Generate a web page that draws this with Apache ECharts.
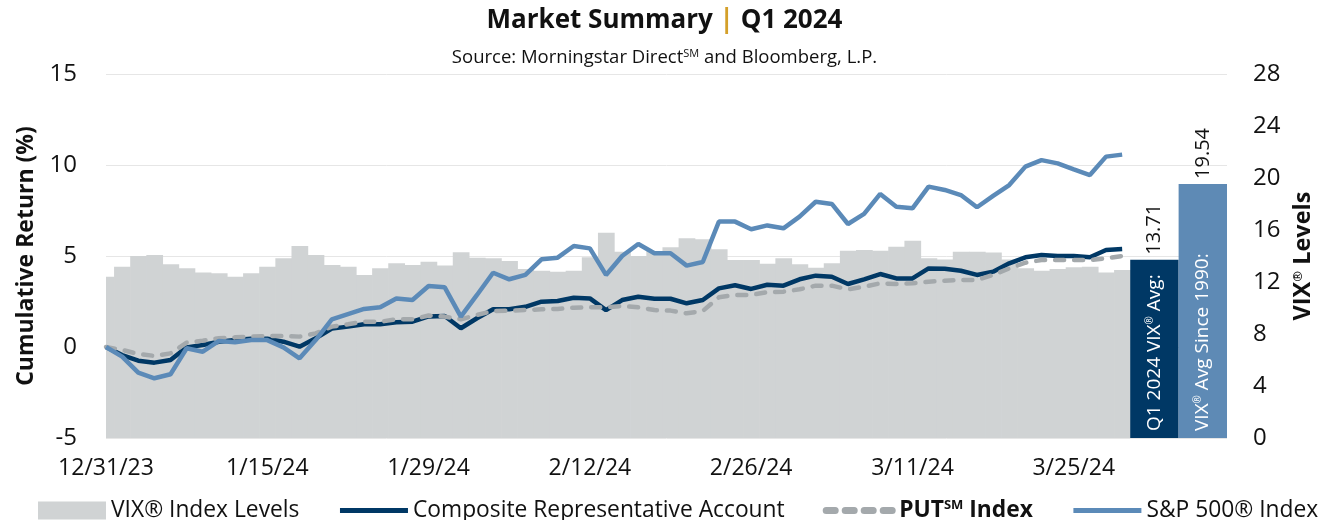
<!DOCTYPE html>
<html>
<head>
<meta charset="utf-8">
<script src="https://cdn.jsdelivr.net/npm/echarts@6/dist/echarts.min.js"></script>
<style>
  html, body { margin: 0; padding: 0; background: #fff; }
  #chart { width: 1329px; height: 520px; }
</style>
</head>
<body>
<div id="chart"></div>
<script>
// x tick labels, shown every 10 trading days
const tickLabels = ["12/31/23", "1/15/24", "1/29/24", "2/12/24", "2/26/24", "3/11/24", "3/25/24"]

// daily values, index 0 = 12/29/23
const vix = [
  12.41, 13.18, 14.0, 14.08, 13.36, 13.05, 12.74, 12.67, 12.41, 12.67,
  13.18, 13.82, 14.77, 14.08, 13.31, 13.18, 12.54, 13.05, 13.44, 13.31,
  13.56, 13.26, 14.28, 13.87, 13.82, 13.62, 13.0, 12.87, 12.79, 12.87,
  13.9, 15.79, 14.33, 14.0, 14.38, 14.67, 15.36, 15.28, 14.51, 13.69,
  13.69, 13.4, 13.82, 13.36, 13.1, 13.44, 14.41, 14.46, 14.41, 14.72,
  15.18, 13.82, 13.74, 14.33, 14.33, 14.26, 13.74, 13.05, 12.87, 13.0,
  13.13, 13.18, 12.74, 12.92
]
const composite = [
  0, -0.44, -0.75, -0.86, -0.71, -0.02, 0.11, 0.29, 0.38, 0.46,
  0.46, 0.29, 0.02, 0.48, 1.01, 1.12, 1.25, 1.25, 1.36, 1.39,
  1.68, 1.7, 1.03, 1.58, 2.07, 2.07, 2.21, 2.49, 2.53, 2.71,
  2.67, 2.03, 2.58, 2.76, 2.65, 2.65, 2.4, 2.58, 3.22, 3.39,
  3.19, 3.42, 3.37, 3.72, 3.92, 3.86, 3.46, 3.72, 4.01, 3.77,
  3.77, 4.32, 4.3, 4.19, 3.96, 4.14, 4.6, 4.93, 5.05, 5.0,
  5.0, 4.93, 5.33, 5.38
]
const putIndex = [
  0, -0.16, -0.38, -0.49, -0.35, 0.24, 0.35, 0.48, 0.53, 0.57,
  0.6, 0.6, 0.57, 0.75, 1.12, 1.25, 1.39, 1.39, 1.52, 1.52,
  1.73, 1.67, 1.52, 1.76, 1.98, 2.0, 2.03, 2.07, 2.09, 2.16,
  2.18, 2.18, 2.25, 2.18, 2.03, 2.0, 1.85, 1.98, 2.73, 2.86,
  2.86, 3.01, 3.04, 3.17, 3.37, 3.37, 3.17, 3.31, 3.5, 3.46,
  3.5, 3.59, 3.64, 3.68, 3.68, 3.96, 4.32, 4.63, 4.78, 4.78,
  4.78, 4.78, 4.87, 5.0
]
const sp500 = [
  0, -0.53, -1.41, -1.72, -1.5, -0.07, -0.26, 0.33, 0.26, 0.38,
  0.38, -0.02, -0.62, 0.38, 1.52, 1.81, 2.09, 2.18, 2.67, 2.58,
  3.35, 3.28, 1.67, 2.86, 4.08, 3.72, 3.96, 4.82, 4.91, 5.55,
  5.42, 3.96, 5.0, 5.66, 5.15, 5.15, 4.47, 4.67, 6.89, 6.89,
  6.47, 6.68, 6.52, 7.16, 7.98, 7.86, 6.76, 7.31, 8.41, 7.71,
  7.62, 8.81, 8.63, 8.35, 7.68, 8.3, 8.9, 9.91, 10.27, 10.09,
  9.76, 9.45, 10.46, 10.57
]

// VIX averages shown as the two bars on the right
const avgNames = ["Q1 2024 VIX{sup|®} Avg:", "VIX{sup|®} Avg Since 1990:"]
const avgValues = [13.71, 19.54]

const font = "Open Sans"
const last = vix.length - 1
const xMax = last + 6.5

let myChart = echarts.init(document.getElementById("chart"))

const idx = (arr) => arr.map((v, i) => [i, v])

myChart.setOption({
  animation: false,
  textStyle: { fontFamily: font, color: "#000" },
  title: {
    left: "center",
    top: 3,
    itemGap: 14,
    text: "{a|Market Summary }{b||}{a| Q1 2024}",
    textStyle: {
      rich: {
        a: { fontFamily: font, fontSize: 26, fontWeight: "bold", color: "#111" },
        b: { fontFamily: font, fontSize: 26, color: "#d4a02a" },
      },
    },
    subtext: "{s|Source: Morningstar Direct}{u|SM}{s| and Bloomberg, L.P.}",
    subtextStyle: {
      rich: {
        s: { fontFamily: font, fontSize: 18.5, color: "#111" },
        u: { fontFamily: font, fontSize: 11, color: "#111", verticalAlign: "top" },
      },
    },
  },
  grid: { left: 106, right: 102, top: 74, bottom: 82 },
  legend: {
    top: 494,
    left: 33,
    itemWidth: 68,
    itemHeight: 18,
    itemGap: 38,
    lineStyle: { width: 5 },
    textStyle: {
      fontFamily: font,
      fontSize: 22.8,
      color: "#111",
      rich: {
        b: { fontFamily: font, fontSize: 22.8, fontWeight: "bold", color: "#111" },
        bs: { fontFamily: font, fontSize: 13, fontWeight: "bold", color: "#111", verticalAlign: "top" },
      },
    },
    formatter: (name) => (name === "PUT Index" ? "{b|PUT}{bs|SM}{b| Index}" : name),
    data: [
      { name: "VIX® Index Levels", icon: "rect" },
      { name: "Composite Representative Account", itemStyle: { opacity: 0 } },
      { name: "PUT Index", itemStyle: { opacity: 0 }, lineStyle: { width: 7 } },
      { name: "S&P 500® Index", itemStyle: { opacity: 0 } },
    ],
  },
  xAxis: {
    type: "value",
    min: 0,
    max: xMax,
    interval: 10,
    axisLine: { show: false },
    axisTick: { show: false },
    splitLine: { show: false },
    axisLabel: {
      fontSize: 23,
      color: "#111",
      margin: 19,
      showMaxLabel: false,
      formatter: (v) => tickLabels[v / 10] || "",
    },
  },
  yAxis: [
    {
      type: "value",
      min: -5,
      max: 15,
      interval: 5,
      axisLine: { show: false },
      axisTick: { show: false },
      axisLabel: { fontSize: 24, color: "#111", margin: 29 },
      splitLine: { lineStyle: { color: "#e6e6e6", width: 1 } },
      name: "Cumulative Return (%)",
      nameLocation: "middle",
      nameRotate: 90,
      nameGap: 68,
      nameTextStyle: { fontFamily: font, fontSize: 23, fontWeight: "bold", color: "#111" },
    },
    {
      type: "value",
      min: 0,
      max: 28,
      interval: 4,
      position: "right",
      axisLine: { show: false },
      axisTick: { show: false },
      axisLabel: { fontSize: 24, color: "#111", margin: 26 },
      splitLine: { show: false },
      name: "{n|VIX}{s|®}{n| Levels}",
      nameLocation: "middle",
      nameRotate: 90,
      nameGap: 62,
      nameTextStyle: {
        rich: {
          n: { fontFamily: font, fontSize: 23.5, fontWeight: "bold", color: "#111" },
          s: { fontFamily: font, fontSize: 13, fontWeight: "bold", color: "#111", verticalAlign: "top" },
        },
      },
    },
  ],
  series: [
    {
      name: "VIX® Index Levels",
      type: "custom",
      yAxisIndex: 1,
      itemStyle: { color: "#d0d3d4" },
      data: idx(vix),
      renderItem: (params, api) => {
        const i = api.value(0)
        const p0 = api.coord([Math.max(i - 0.5, 0), api.value(1)])
        const p1 = api.coord([Math.min(i + 0.5, last + 0.5), 0])
        return {
          type: "rect",
          shape: { x: p0[0], y: p0[1], width: p1[0] - p0[0] + 0.6, height: p1[1] - p0[1] },
          style: { fill: "#d0d3d4" },
        }
      },
    },
    {
      name: "Composite Representative Account",
      type: "line",
      data: idx(composite),
      showSymbol: false,
      symbol: "none",
      lineStyle: { color: "#003865", width: 4.5 },
      itemStyle: { color: "#003865" },
    },
    {
      name: "PUT Index",
      type: "line",
      data: idx(putIndex),
      showSymbol: false,
      symbol: "none",
      lineStyle: { color: "#a4a9ac", width: 4.5, type: [9, 10], cap: "round" },
      itemStyle: { color: "#a4a9ac" },
    },
    {
      name: "S&P 500® Index",
      type: "line",
      data: idx(sp500),
      showSymbol: false,
      symbol: "none",
      lineStyle: { color: "#5b8ab8", width: 4.5 },
      itemStyle: { color: "#5b8ab8" },
    },
    {
      name: "averages",
      type: "custom",
      yAxisIndex: 1,
      data: avgValues.map((v, k) => [last + 0.5 + 3 * k, last + 3.5 + 3 * k, v]),
      renderItem: (params, api) => {
        const k = params.dataIndex
        const v = api.value(2)
        const p0 = api.coord([api.value(0), v])
        const p1 = api.coord([api.value(1), 0])
        const cx = (p0[0] + p1[0]) / 2
        return {
          type: "group",
          children: [
            {
              type: "rect",
              shape: { x: p0[0], y: p0[1], width: p1[0] - p0[0], height: p1[1] - p0[1] },
              style: { fill: k === 0 ? "#003865" : "#5e8ab5" },
            },
            {
              type: "text",
              x: cx,
              y: p1[1] - 7,
              rotation: Math.PI / 2,
              style: {
                text: avgNames[k],
                x: 0,
                y: 0,
                fill: "#fff",
                font: "19px '" + font + "'",
                align: "left",
                verticalAlign: "middle",
                rich: { sup: { fill: "#fff", fontSize: 10, fontFamily: font, verticalAlign: "top" } },
              },
            },
            {
              type: "text",
              x: cx,
              y: p0[1] - 5,
              rotation: Math.PI / 2,
              style: {
                text: v.toFixed(2),
                x: 0,
                y: 0,
                fill: "#111",
                font: "20px '" + font + "'",
                align: "left",
                verticalAlign: "middle",
              },
            },
          ],
        }
      },
    },
  ],
})
</script>
</body>
</html>
